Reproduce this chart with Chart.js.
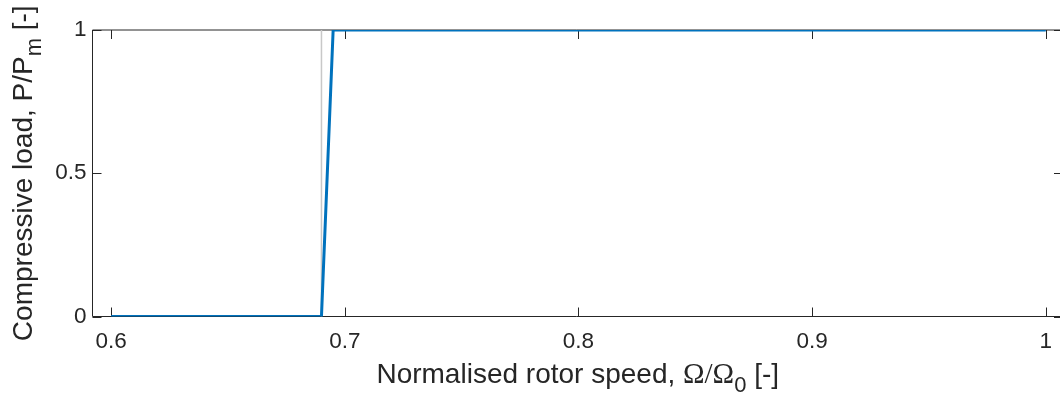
<!DOCTYPE html>
<html>
<head>
<meta charset="utf-8">
<script src="https://cdn.jsdelivr.net/npm/chart.js@4.4.1/dist/chart.umd.min.js"></script>
<style>
  html, body { margin: 0; padding: 0; background: #fff; }
  #wrap { width: 1060px; height: 399px; }
</style>
</head>
<body>
<div id="wrap"><canvas id="chart"></canvas></div>
<script>
// normalised speed vs. compressive load
const SPEED = [0.6, 0.69, 0.695, 1.0];
const LOAD = [0, 0, 1, 1];
// thin guide at the onset speed
const ONSET_SPEED = [0.69, 0.69];
const ONSET_LOAD = [0, 1];

const X_TICKS = [0.6, 0.7, 0.8, 0.9, 1];
const Y_TICKS = [0, 0.5, 1];

const AXIS = '#262626';
const SANS = '"Liberation Sans", Arial, Helvetica, sans-serif';
const SERIF = '"Liberation Serif", "Times New Roman", serif';
const TICK_LEN = 9;

function toPoints(xs, ys) {
  return xs.map((x, i) => ({ x, y: ys[i] }));
}

// text in pieces so symbols and subscripts can use their own font
function drawRuns(ctx, runs, cx, y) {
  let total = 0;
  runs.forEach(r => { ctx.font = r.font; total += ctx.measureText(r.text).width; });
  let x = cx - total / 2;
  runs.forEach(r => {
    ctx.font = r.font;
    ctx.fillText(r.text, x, y + (r.dy || 0));
    x += ctx.measureText(r.text).width;
  });
}

// box runs past the right edge of the canvas, so only its right ticks show
const boxPlugin = {
  id: 'box',
  beforeDatasetsDraw(chart) {
    const { ctx, chartArea: a, scales: { x, y } } = chart;
    const right = a.right + 3;
    ctx.save();
    ctx.strokeStyle = AXIS;
    ctx.lineWidth = 1;
    ctx.beginPath();
    ctx.moveTo(right, a.top); ctx.lineTo(a.left, a.top);
    ctx.lineTo(a.left, a.bottom); ctx.lineTo(right, a.bottom);
    X_TICKS.forEach(v => {
      const px = Math.round(x.getPixelForValue(v)) + 0.5;
      ctx.moveTo(px, a.bottom); ctx.lineTo(px, a.bottom - TICK_LEN);
      ctx.moveTo(px, a.top); ctx.lineTo(px, a.top + TICK_LEN);
    });
    Y_TICKS.forEach(v => {
      const py = Math.round(y.getPixelForValue(v)) + 0.5;
      ctx.moveTo(a.left, py); ctx.lineTo(a.left + TICK_LEN, py);
      ctx.moveTo(right, py); ctx.lineTo(right - TICK_LEN, py);
    });
    ctx.stroke();
    ctx.restore();
  },
  afterDraw(chart) {
    const { ctx, chartArea: a } = chart;
    ctx.save();
    ctx.fillStyle = AXIS;
    ctx.textBaseline = 'alphabetic';
    ctx.textAlign = 'left';
    drawRuns(ctx, [
      { text: 'Normalised rotor speed, ', font: `28px ${SANS}` },
      { text: 'Ω/Ω', font: `29px ${SERIF}` },
      { text: '0', font: `22px ${SANS}`, dy: 9 },
      { text: ' [-]', font: `28px ${SANS}` }
    ], (a.left + a.right + 3) / 2, 383);

    ctx.translate(32, (a.top + a.bottom) / 2);
    ctx.rotate(-Math.PI / 2);
    drawRuns(ctx, [
      { text: 'Compressive load, P/P', font: `28px ${SANS}` },
      { text: 'm', font: `22px ${SANS}`, dy: 9 },
      { text: ' [-]', font: `28px ${SANS}` }
    ], 0, 0);
    ctx.restore();
  }
};

new Chart(document.getElementById('chart'), {
  type: 'scatter',
  data: {
    datasets: [
      {
        data: toPoints(ONSET_SPEED, ONSET_LOAD),
        showLine: true,
        borderColor: '#c8c8c8',
        borderWidth: 1.5,
        pointRadius: 0,
        order: 2
      },
      {
        data: toPoints(SPEED, LOAD),
        showLine: true,
        borderColor: '#0072BD',
        borderWidth: 3,
        pointRadius: 0,
        order: 1
      }
    ]
  },
  options: {
    responsive: true,
    maintainAspectRatio: false,
    animation: false,
    events: [],
    layout: { padding: { top: 30, left: 0, right: 0, bottom: 0 } },
    plugins: { legend: { display: false }, tooltip: { enabled: false } },
    scales: {
      x: {
        type: 'linear',
        min: 0.592,
        max: 1.0061,
        grid: { display: false, drawTicks: false },
        border: { display: false },
        afterBuildTicks: s => { s.ticks = X_TICKS.map(v => ({ value: v })); },
        afterFit: s => { s.height = 82.5; s.paddingLeft = 0; s.paddingRight = 0; },
        ticks: {
          padding: 12,
          color: AXIS,
          font: { family: SANS, size: 22.5 },
          callback: v => String(v)
        }
      },
      y: {
        type: 'linear',
        min: 0,
        max: 1,
        grid: { display: false, drawTicks: false },
        border: { display: false },
        afterBuildTicks: s => { s.ticks = Y_TICKS.map(v => ({ value: v })); },
        afterFit: s => { s.width = 92.5; s.paddingTop = 0; s.paddingBottom = 0; },
        ticks: {
          padding: 6,
          color: AXIS,
          font: { family: SANS, size: 22.5 },
          callback: v => String(v)
        }
      }
    }
  },
  plugins: [boxPlugin]
});
</script>
</body>
</html>
